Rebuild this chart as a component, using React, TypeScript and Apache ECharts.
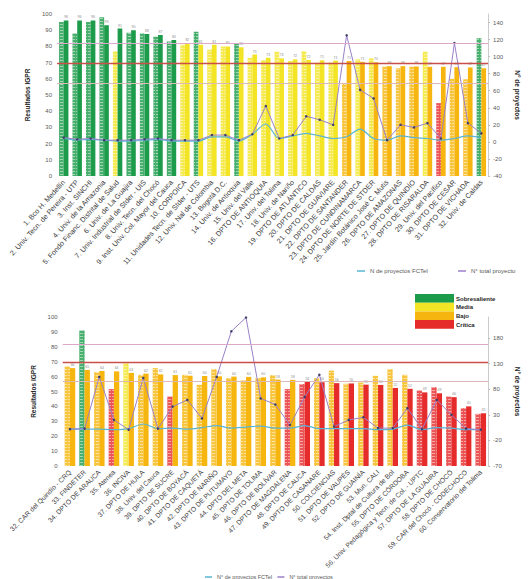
import React, { useEffect, useRef } from 'react';
import * as echarts from 'echarts';

// ---------- Top chart data ----------
const topCategories = [
  '1. Bco H. Medellín', '2. Univ. Tecn. de Pereira - UTP', '3. Inst. SINCHI', '4. Univ. de la Amazonia',
  '5. Fondo Financ. Distrital de Salud', '6. Univ. de La Guajira', '7. Univ. Industrial de Stder - UIS',
  '8. Univ. Tecn. del Chocó', '9. Inst. Univ. Col. Mayor del Cauca', '10. CORPOICA',
  '11. Unidades Tecn. de Stder - UTS', '12. Univ. Nal de Colombia', '13. Bogotá D.C.', '14. Univ. de Antioquia',
  '15. Univ. del Valle', '16. DPTO DE ANTIOQUIA', '17. Univ. del Tolima', '18. Univ. de Nariño',
  '19. DPTO DE ATLÁNTICO', '20. DPTO DE CALDAS', '21. DPTO DE GUAVIARE', '22. DPTO DE SANTANDER',
  '23. DPTO DE CUNDINAMARCA', '24. DPTO DE NORTE DE STDER', '25. Jardín Botánico José C. Mutis',
  '26. DPTO DE AMAZONAS', '27. DPTO DE QUINDÍO', '28. DPTO DE RISARALDA', '29. Univ. del Pacífico',
  '30. DPTO DE CESAR', '31. DPTO DE VICHADA', '32. Univ. de Caldas'
];
const topPrevious = [95, 88, 95, 98, 77, 88.5, 88, 86, 83, 81, 89, 78, 80, 82, 73, 71.6, 76.7, 71, 77, 70, 70, 57, 72, 72.6, 67.5, 66.5, 67.5, 76.7, 45, 60, 59.7, 85];
const topCurrent = [96, 96, 96, 93, 91, 90, 87.6, 87, 84, 82, 81, 81, 80, 79.5, 75, 73, 72.6, 72, 71.6, 71.4, 71.2, 71, 70.5, 70.2, 67.8, 67.8, 67.6, 67.4, 67.4, 67.2, 67, 66.5];
const topPrevClass = ['S', 'S', 'S', 'S', 'M', 'S', 'S', 'S', 'S', 'M', 'S', 'M', 'M', 'S', 'M', 'M', 'M', 'M', 'M', 'M', 'M', 'B', 'M', 'M', 'B', 'B', 'B', 'M', 'C', 'B', 'B', 'S'];
const topCurrClass = ['S', 'S', 'S', 'S', 'S', 'S', 'S', 'S', 'S', 'M', 'M', 'M', 'M', 'M', 'M', 'M', 'M', 'M', 'M', 'M', 'M', 'B', 'B', 'B', 'B', 'B', 'B', 'B', 'B', 'B', 'B', 'B'];
const topFctei = [4, 2, 3, 2, 1, 1, 2, 3, 1, 1, 1, 6, 6, 1, 9, 21, 4, 7, 10, 7, 4, 6, 15, 4, 2, 7, 5, 4, 2, 4, 7, 5];
const topTotal = [5, 3, 4, 2, 2, 2, 3, 4, 2, 2, 2, 8, 8, 2, 9, 42, 4, 8, 30, 26, 20, 125, 61, 51, 2, 20, 17, 22, 4, 116, 22, 10];

// ---------- Bottom chart data ----------
const bottomCategories = [
  '32. CAR del Quindío - CRQ', '33. FINDETER', '34. DPTO DE ARAUCA', '35. Atenea', '36. INCIVA',
  '37. DPTO DE HUILA', '38. Univ. del Cauca', '39. DPTO DE SUCRE', '40. DPTO DE BOYACÁ',
  '41. DPTO DE CAQUETÁ', '42. DPTO DE NARIÑO', '43. DPTO DE PUTUMAYO', '44. DPTO DEL META',
  '45. DPTO DE TOLIMA', '46. DPTO DE BOLÍVAR', '47. DPTO DE MAGDALENA', '48. DPTO DE CAUCA',
  '49. DPTO DE CASANARE', '50. COLCIENCIAS', '51. DPTO DE VAUPÉS', '52. DPTO DE GUAINÍA',
  '53. Mun. CALI', '54. Inst. Dptal de Cultura de Bol', '55. DPTO DE CÓRDOBA',
  '56. Univ. Pedagógica y Tecn. de Col. - UPTC', '57. DPTO DE LA GUAJIRA', '58. DPTO DE CHOCÓ',
  '59. CAR del Chocó - CODECHOCO', '60. Conservatorio del Tolima'
];
const bottomPrevious = [66.8, 91, 63, 51.6, 69, 61.2, 65.7, 46.6, 61.2, 54.5, 65, 59, 57.4, 59, 61, 51.6, 55, 59, 64, 55.2, 56, 60.5, 65, 61.2, 50.7, 52.9, 46.6, 38.8, 35];
const bottomCurrent = [65.7, 64.5, 63.8, 63.5, 62.5, 62, 61.5, 61, 60.6, 60.4, 60.2, 60, 59.8, 59.5, 58, 57.8, 56.4, 56.2, 55.6, 55.4, 54.6, 54.4, 52.4, 51.8, 49.4, 48.8, 46.2, 40, 35.4];
const bottomPrevClass = ['B', 'S', 'B', 'C', 'M', 'B', 'B', 'C', 'B', 'B', 'B', 'B', 'B', 'B', 'B', 'C', 'C', 'B', 'B', 'B', 'B', 'B', 'B', 'B', 'C', 'C', 'C', 'C', 'C'];
const bottomCurrClass = ['B', 'B', 'B', 'B', 'B', 'B', 'B', 'B', 'B', 'B', 'B', 'B', 'B', 'B', 'B', 'B', 'C', 'C', 'C', 'C', 'C', 'C', 'C', 'C', 'C', 'C', 'C', 'C', 'C'];
const bottomFctei = [2, 2, 2, 1, 3, 12, 3, 4, 2, 5, 9, 4, 6, 8, 4, 4, 9, 3, 3, 3, 3, 1, 2, 10, 1, 5, 4, 1, 1];
const bottomTotal = [2, 3, 104, 20, 1, 102, 3, 46, 59, 23, 104, 193, 220, 62, 50, 10, 65, 108, 7, 20, 25, 4, 4, 43, 2, 59, 30, 3, 1];

// reference lines on IGPR axis
const referenceLines = [82, 69.5, 57];
const referenceColors = ['#dcaac8', '#c9504a', '#dcb8b8'];

const classNames = ['Sobresaliente', 'Media', 'Bajo', 'Crítica'];
const classKeys = ['S', 'M', 'B', 'C'];
const classColors: Record<string, string> = { S: '#1c9b4b', M: '#f3e526', B: '#f6b60f', C: '#e62b2b' };

const FONT = 'Liberation Sans, Arial, sans-serif';
const TEAL = '#5ab4d6';
const PURPLE = '#9a80c8';

const decal = {
  symbol: 'rect',
  symbolSize: 1,
  dashArrayX: [3, 1],
  dashArrayY: [1, 2],
  color: 'rgba(255,255,255,0.6)',
  rotation: 0,
};

function barData(values: number[], classes: string[]) {
  return values.map((v, i) => ({ value: v, itemStyle: { color: classColors[classes[i]] } }));
}

function markLines() {
  return {
    silent: true,
    symbol: 'none',
    label: { show: false },
    data: referenceLines.map((v, i) => ({ yAxis: v, lineStyle: { color: referenceColors[i], width: i === 1 ? 1.3 : 1, type: 'solid' } })),
  };
}

export default function App() {
  const ref = useRef<HTMLDivElement>(null);
  useEffect(() => {
    if (!ref.current) return;
    const chart = echarts.init(ref.current, undefined, { renderer: 'svg' });

    const xAxisCommon = (idx: number, data: string[], size: number, rotate: number) => ({
      type: 'category',
      gridIndex: idx,
      data,
      axisLine: { show: false },
      axisTick: { show: false },
      axisLabel: { interval: 0, rotate, fontSize: size, color: '#404040', margin: 5, fontFamily: FONT },
    });
    const leftAxis = (idx: number, gap: number) => ({
      type: 'value',
      gridIndex: idx,
      position: 'left',
      min: 0,
      max: 100,
      interval: 10,
      name: 'Resultados IGPR',
      nameLocation: 'middle',
      nameGap: gap,
      nameTextStyle: { fontSize: 6.5, fontWeight: 'bold', color: '#262626', fontFamily: FONT },
      axisLine: { show: false },
      axisTick: { show: false },
      splitLine: { show: false },
      axisLabel: { fontSize: 6, color: '#595959', margin: 5, fontFamily: FONT },
    });
    const rightAxis = (idx: number, min: number, max: number, interval: number) => ({
      type: 'value',
      gridIndex: idx,
      position: 'right',
      min,
      max,
      interval,
      name: 'N° de proyectos',
      nameLocation: 'middle',
      nameRotate: -90,
      nameGap: 24,
      nameTextStyle: { fontSize: 6.5, fontWeight: 'bold', color: '#262626', fontFamily: FONT },
      axisLine: { show: true, lineStyle: { color: '#bfbfbf', width: 0.8 } },
      axisTick: { show: true, length: 2, lineStyle: { color: '#bfbfbf' } },
      splitLine: { show: false },
      axisLabel: { fontSize: 6, color: '#595959', margin: 5, showMaxLabel: false, fontFamily: FONT },
    });

    const barLabel = {
      show: true,
      position: 'top',
      distance: 1,
      fontSize: 3.5,
      color: '#8c8c8c',
      formatter: (p: any) => Math.round(p.value),
    };

    const option = {
      animation: false,
      textStyle: { fontFamily: FONT },
      grid: [
        { left: 57, right: 24, top: 14, height: 162 },
        { left: 62.6, right: 18.3, top: 317, height: 149 },
      ],
      xAxis: [xAxisCommon(0, topCategories, 7.2, 48), xAxisCommon(1, bottomCategories, 6.8, 45)],
      yAxis: [leftAxis(0, 11), rightAxis(0, -40, 150, 20), leftAxis(1, 12), rightAxis(1, -70, 221, 50)],
      legend: [
        {
          left: 352,
          top: 263,
          icon: 'rect',
          itemWidth: 8,
          itemHeight: 1.5,
          itemGap: 30,
          textStyle: { fontSize: 6, color: '#595959', fontFamily: FONT },
          data: [
            { name: 'N de proyectos FCTeI', itemStyle: { color: TEAL } },
            { name: 'N° total proyecto', itemStyle: { color: PURPLE } },
          ],
        },
        {
          left: 200,
          top: 569,
          icon: 'rect',
          itemWidth: 7,
          itemHeight: 1.5,
          itemGap: 5,
          textStyle: { fontSize: 5.5, color: '#595959', fontFamily: FONT },
          data: [
            { name: 'N° de proyectos FCTeI', itemStyle: { color: TEAL } },
            { name: 'N° total proyectos', itemStyle: { color: PURPLE } },
          ],
        },
      ],
      graphic: classNames.flatMap((name, i) => [
        {
          type: 'rect',
          left: 415,
          top: 294 + i * 8.7,
          shape: { width: 39, height: 8.7 },
          style: { fill: classColors[classKeys[i]] },
          silent: true,
        },
        {
          type: 'text',
          left: 456,
          top: 295.5 + i * 8.7,
          style: { text: name, fontSize: 6, fontWeight: 'bold', fill: '#262626', fontFamily: FONT },
          silent: true,
        },
      ]),
      series: [
        {
          type: 'bar',
          name: 'IGPR anterior',
          xAxisIndex: 0,
          yAxisIndex: 0,
          barWidth: 4.7,
          barGap: '0%',
          itemStyle: { opacity: 0.8, decal },
          data: barData(topPrevious, topPrevClass),
        },
        {
          type: 'bar',
          name: 'IGPR actual',
          xAxisIndex: 0,
          yAxisIndex: 0,
          barWidth: 4.7,
          barGap: '0%',
          label: barLabel,
          data: barData(topCurrent, topCurrClass),
          markLine: markLines(),
        },
        {
          type: 'line',
          name: 'N de proyectos FCTeI',
          xAxisIndex: 0,
          yAxisIndex: 1,
          smooth: 0.3,
          showSymbol: false,
          lineStyle: { color: TEAL, width: 1.2 },
          itemStyle: { color: TEAL },
          data: topFctei,
        },
        {
          type: 'line',
          name: 'N° total proyecto',
          xAxisIndex: 0,
          yAxisIndex: 1,
          symbol: 'circle',
          symbolSize: 2.5,
          lineStyle: { color: PURPLE, width: 1 },
          itemStyle: { color: '#3f3f6a' },
          data: topTotal,
        },
        {
          type: 'bar',
          name: 'IGPR anterior 2',
          xAxisIndex: 1,
          yAxisIndex: 2,
          barWidth: 5.3,
          barGap: '0%',
          itemStyle: { opacity: 0.8, decal },
          data: barData(bottomPrevious, bottomPrevClass),
        },
        {
          type: 'bar',
          name: 'IGPR actual 2',
          xAxisIndex: 1,
          yAxisIndex: 2,
          barWidth: 5.3,
          barGap: '0%',
          label: barLabel,
          data: barData(bottomCurrent, bottomCurrClass),
          markLine: markLines(),
        },
        {
          type: 'line',
          name: 'N° de proyectos FCTeI',
          xAxisIndex: 1,
          yAxisIndex: 3,
          smooth: 0.3,
          showSymbol: false,
          lineStyle: { color: TEAL, width: 1.2 },
          itemStyle: { color: TEAL },
          data: bottomFctei,
        },
        {
          type: 'line',
          name: 'N° total proyectos',
          xAxisIndex: 1,
          yAxisIndex: 3,
          symbol: 'circle',
          symbolSize: 2.5,
          lineStyle: { color: PURPLE, width: 1 },
          itemStyle: { color: '#3f3f6a' },
          data: bottomTotal,
        },
      ],
    };
    chart.setOption(option as any);
    return () => chart.dispose();
  }, []);
  return <div ref={ref} style={{ position: 'fixed', left: 0, top: 0, width: 529, height: 579, background: '#fff' }} />;
}
